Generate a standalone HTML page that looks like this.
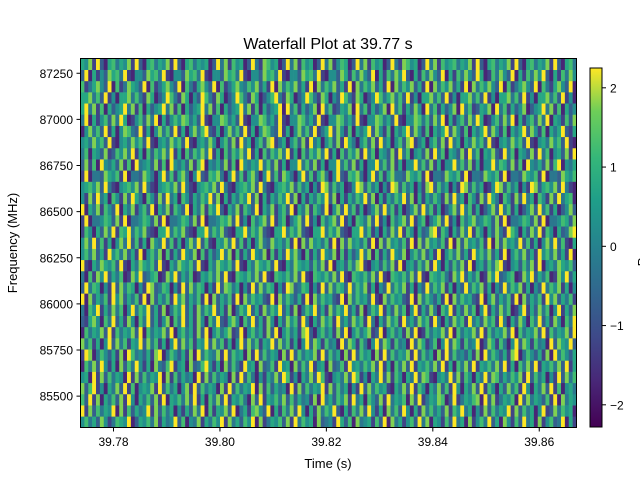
<!DOCTYPE html>
<html><head><meta charset="utf-8"><style>
body{margin:0;background:#fff;}
svg{display:block;font-family:"Liberation Sans",sans-serif;}
</style></head><body>
<svg id="chart" width="640" height="480" viewBox="0 0 640 480" xmlns="http://www.w3.org/2000/svg">
<defs><linearGradient id="vir" x1="0" y1="1" x2="0" y2="0">
<stop offset="0" stop-color="#440154"/><stop offset="0.13" stop-color="#482878"/><stop offset="0.25" stop-color="#3e4989"/><stop offset="0.38" stop-color="#31688e"/><stop offset="0.5" stop-color="#26828e"/><stop offset="0.63" stop-color="#1f9e89"/><stop offset="0.75" stop-color="#35b779"/><stop offset="0.88" stop-color="#6ece58"/><stop offset="1" stop-color="#fde725"/></linearGradient></defs>
<text x="328" y="49" font-size="16" text-anchor="middle">Waterfall Plot at 39.77 s</text>
<g id="cells"></g>
<rect x="80.5" y="58.5" width="496" height="369" fill="none" stroke="#000" stroke-width="1"/>
<g id="axes"></g>
<text x="328" y="468" font-size="13" text-anchor="middle">Time (s)</text>
<text transform="translate(17,243) rotate(-90)" font-size="13" text-anchor="middle">Frequency (MHz)</text>
<rect x="590" y="68" width="12" height="359" fill="url(#vir)" stroke="#000" stroke-width="1"/>
<g id="cbaxis"></g>
<text transform="translate(647,248) rotate(-90)" font-size="13" text-anchor="middle">Power</text>
</svg>
<script>
const xTicks=[39.78,39.80,39.82,39.84,39.86];
const yTicks=[85500,85750,86000,86250,86500,86750,87000,87250];
const cbTicks=[-2,-1,0,1,2];
const tRange=[39.7738,39.8670];
const fRange=[85330,87330];
const rows=[
"57463852476591365748264593715482647592846375918246573829475618345296371845627391846257394816527394618257493618527394618257349162",
"46382759461528374659283746159238475619283746591827364592837461526384917265839146278539162748395162847593162748395261847395162847",
"73645281946375829461753829465718392465871392465781938246571938465372918465739281647382951647382916574839261748392657418392657483",
"58293746158293746518293746591827364519283746592837461529384756216483927516483729516483927516384729516483927156483792516483927156",
"36475829374615293847561928374651928374659182736451928374651829374152648397251648397215648397251649382751649387215649382751649387",
"64758392617483926574839261748392657483926174839265748392617483952618374952618437925618347952618374295618347295618374925618347295",
"48293756182937465182937465829374618293756182937465829374618293745362819475362891475362819475362981475362819745362891475362819475",
"59384726159384726593847261593847265938472615938472659384726159386274519386274159386274519386247159386274591386274159386274519386",
"27465839174658392746583917465839274658391746583927465839174658391574628391574682391574628391574628931574628391574682391574628391",
"63857294163857294638572941638572946385729416385729463857294163851749362851749326851749362851749362581749362851749326851749362851",
"47593628147593628475936281475936284759362814759362847593628147592638471592638417592638471592638471259263847159263841759263847159",
"58364729183647295836472918364729583647291836472958364729183647291847563291847536291847563291847563921847563291847536291847563291",
"39475826153947582615394758261539475826153947582615394758261539476152938476152983476152938476152938746152938476152983476152938476",
"65748392176574839217657483921765748392176574839217657483921765742859364712859346712859364712859364172859364712859346712859364712",
"48657392164865739216486573921648657392164865739216486573921648656374829156374892156374829156374829516374829156374892156374829156",
"57483629157483629574836291574836295748362915748362957483629157481726395481726359481726395481726395841726395481726359481726395481",
"38564729183856472918385647291838564729183856472918385647291838564937261584937216584937261584937261854937261584937216584937261584",
"69475832166947583216694758321669475832166947583216694758321669472516384927516348927516384927516384297516384927516348927516384927",
"45763829144576382914457638291445763829144576382914457638291445768392517468392571468392517468392517648392517468392571468392517468",
"58394726135839472613583947261358394726135839472613583947261358391648275391648257391648275391648275931648275391648257391648275391",
"26475938162647593816264759381626475938162647593816264759381626475283946175283964175283946175283946715283946175283964175283946175",
"67583942156758394215675839421567583942156758394215675839421567583746152983746125983746152983746152893746152983746125983746152983",
"43865729144386572914438657291443865729144386572914438657291443864159372684159327684159372684159372864159372684159327684159372684",
"59473826155947382615594738261559473826155947382615594738261559476382719546382791546382719546382719456382719546382791546382719546",
"37584926173758492617375849261737584926173758492617375849261737582947165382947156382947165382947165832947165382947156382947165382",
"64857392156485739215648573921564857392156485739215648573921564851573829461573892461573829461573829641573829461573892461573829461",
"46938527164693852716469385271646938527164693852716469385271646932615847392615874392615847392615847932615847392615874392615847392",
"58746392155874639215587463921558746392155874639215587463921558747384916257384961257384916257384916527384916257384961257384916257",
"35694827163569482716356948271635694827163569482716356948271635691947263581947236581947263581947263851947263581947236581947263581",
"68473925166847392516684739251668473925166847392516684739251668474286135974286153974286135974286135794286135974286153974286135974",
"47583629184758362918475836291847583629184758362918475836291847585391724685391742685391724685391724865391724685391742685391724685",
"53867492155386749215538674921553867492155386749215538674921553862748539162748593162748539162748539612748539162748593162748539162",
"74658293167465829316746582931674658293167465829316746582931674656139482756139428756139482756139482576139482756139428756139482756"
];
const vmin=-2.28,vmax=2.25;
const stops=[[68,1,84],[72,40,120],[62,73,137],[49,104,142],[38,130,142],[31,158,137],[53,183,121],[110,206,88],[253,231,37]];
function cmap(v){let t=(v-vmin)/(vmax-vmin);t=Math.max(0,Math.min(1,t))*(stops.length-1);const i=Math.min(stops.length-2,Math.floor(t)),f=t-i;const a=stops[i],b=stops[i+1];return `rgb(${a.map((c,k)=>Math.round(c+(b[k]-c)*f)).join(',')})`;}
const X0=80.5,X1=576.5,Y0=58.5,Y1=427.5;
const xs=t=>X0+(t-tRange[0])/(tRange[1]-tRange[0])*(X1-X0);
const ys=f=>Y1-(f-fRange[0])/(fRange[1]-fRange[0])*(Y1-Y0);
const cbY=v=>427-(v-vmin)/(vmax-vmin)*359;
const NS="http://www.w3.org/2000/svg";
function mk(tag,attrs,parent){const e=document.createElementNS(NS,tag);for(const k in attrs)e.setAttribute(k,attrs[k]);parent.appendChild(e);return e;}
const cells=document.getElementById('cells');
const nR=rows.length,nC=rows[0].length;
const dt=(tRange[1]-tRange[0])/nC,df=(fRange[1]-fRange[0])/nR;
rows.forEach((row,r)=>{const sh=(r*37)%nC;for(let c=0;c<nC;c++){const d=+row[(c+sh)%nC];const v=(d-4.5)*0.5;const x=xs(tRange[0]+c*dt),x2=xs(tRange[0]+(c+1)*dt);const y=ys(fRange[0]+(r+1)*df),y2=ys(fRange[0]+r*df);
const e=mk('rect',{x:x,y:y,width:x2-x+0.3,height:y2-y+0.3,fill:cmap(v)},cells);

}});
const ax=document.getElementById('axes');
xTicks.forEach(t=>{const x=xs(t);mk('line',{x1:x,x2:x,y1:427.5,y2:431.5,stroke:'#000'},ax);
const tx=mk('text',{x:x,y:446,'font-size':12,'text-anchor':'middle'},ax);tx.textContent=t.toFixed(2);

});
yTicks.forEach(f=>{const y=ys(f);mk('line',{x1:76.5,x2:80.5,y1:y,y2:y,stroke:'#000'},ax);
const tx=mk('text',{x:73,y:y+4.5,'font-size':12,'text-anchor':'end'},ax);tx.textContent=f;

});
const cb=document.getElementById('cbaxis');
cbTicks.forEach(v=>{const y=cbY(v);mk('line',{x1:602,x2:606,y1:y,y2:y,stroke:'#000'},cb);
const tx=mk('text',{x:610,y:y+4.5,'font-size':12},cb);tx.textContent=v<0?'\u2212'+(-v):String(v);

});
</script>
</body></html>
